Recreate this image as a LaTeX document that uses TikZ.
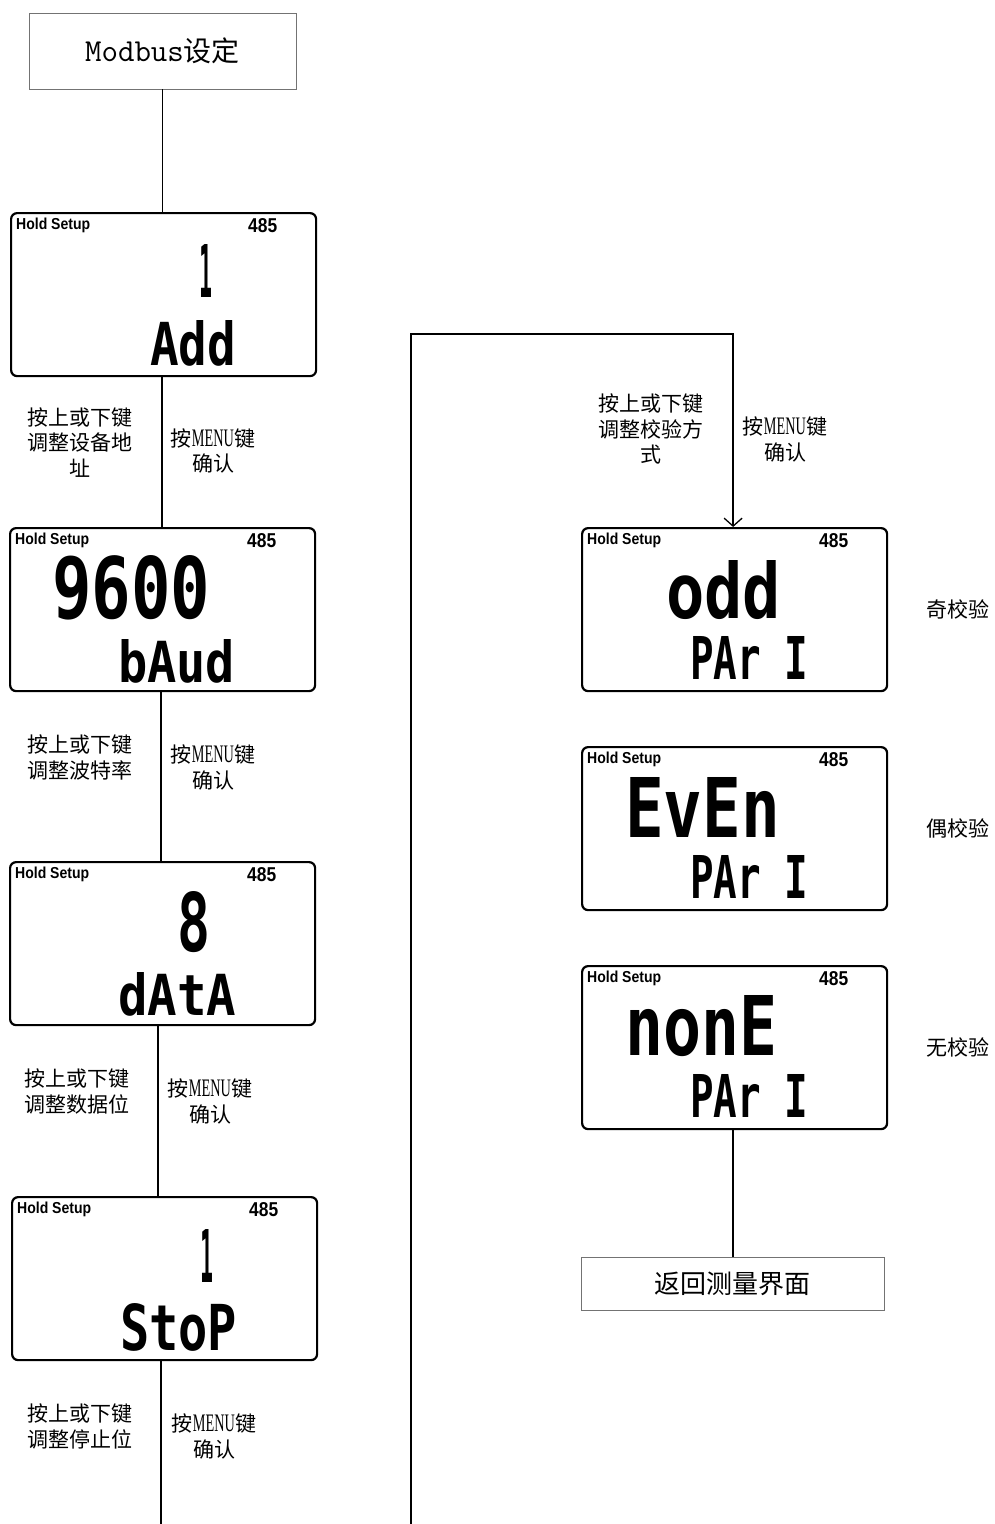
\documentclass[tikz,border=0pt]{standalone}
\usepackage{fontspec}
\usepackage{graphicx}
\setmainfont{Liberation Serif}
\newfontfamily\cjk{Noto Sans CJK SC}
\newfontfamily\segfont{DejaVu Sans Mono}
\newfontfamily\lcdsans{Liberation Sans}
\usetikzlibrary{arrows.meta}
\newcommand\segtxt[3]{\resizebox{#1pt}{#2pt}{\segfont\bfseries #3}}
\newcommand\menutxt{按\scalebox{0.68}[1.2]{\rmfamily MENU}键\\确认}
\newcommand\lcdpanel[3]{%
  \begin{scope}[shift={(#2,#3)}]
    \node[lcd] (#1) at (0,0) {};
    \node[holdtxt] (#1-hold) at (6,6) {\resizebox{74pt}{11.5pt}{Hold Setup}};
    \node[holdtxt] (#1-485) at (238,6) {\resizebox{29pt}{14pt}{485}};
  \end{scope}}
\tikzset{
  lcd/.style={anchor=north west, draw=black, line width=2.2pt, rounded corners=6pt,
    minimum width=305pt, minimum height=163pt, inner sep=0pt},
  holdtxt/.style={anchor=north west, inner sep=0pt, font=\lcdsans\bfseries\fontsize{14pt}{14pt}\selectfont},
  segnode/.style={anchor=south west, inner sep=0pt},
  conn/.style={draw=black, line width=1.3pt},
  graybox/.style={draw=black!55, line width=0.9pt, inner sep=0pt},
  lbl/.style={align=center, inner sep=0pt, font=\cjk\fontsize{21pt}{25.5pt}\selectfont},
}
\begin{document}
\begin{tikzpicture}[x=1pt,y=-1pt]
\useasboundingbox (0,0) rectangle (994,1524);
\fill[white] (0,0) rectangle (994,1524);

% top box
\node[graybox, minimum width=267pt, minimum height=76pt] (top) at (162.5,51)
  {\ttfamily\fontsize{32pt}{32pt}\selectfont Modbus{\cjk\fontsize{28pt}{28pt}\selectfont 设定}};

% panels
\lcdpanel{p1}{10}{212}
\lcdpanel{p2}{9}{527}
\lcdpanel{p3}{9}{861}
\lcdpanel{p4}{11}{1196}
\lcdpanel{p5}{581}{527}
\lcdpanel{p6}{581}{746}
\lcdpanel{p7}{581}{965}

% display texts
\node[segnode] (s1a) at (199,298) {\segtxt{13}{53}{1}};
\node[segnode] (s1b) at (150,367) {\segtxt{86}{45}{Add}};
\node[segnode] (s2a) at (52,620) {\segtxt{158}{63}{9600}};
\node[segnode] (s2b) at (118,683) {\segtxt{117}{43}{bAud}};
\node[segnode] (s3a) at (177,953) {\segtxt{33}{60}{8}};
\node[segnode] (s3b) at (118,1016) {\segtxt{118}{43}{dAtA}};
\node[segnode] (s4a) at (200,1283) {\segtxt{13}{53}{1}};
\node[segnode] (s4b) at (120,1352) {\segtxt{117}{47}{StoP}};
\node[segnode] (s5a) at (666,620) {\segtxt{115}{58}{odd}};
\node[segnode] (s5b) at (690,680) {\segtxt{118}{43}{PAr I}};
\node[segnode] (s6a) at (625,838) {\segtxt{155}{60}{EvEn}};
\node[segnode] (s6b) at (690,899) {\segtxt{118}{43}{PAr I}};
\node[segnode] (s7a) at (625,1057) {\segtxt{152}{60}{nonE}};
\node[segnode] (s7b) at (690,1118) {\segtxt{118}{43}{PAr I}};

% return box
\node[graybox, minimum width=303pt, minimum height=53pt] (ret) at (732.5,1283.5)
  {\cjk\fontsize{26pt}{26pt}\selectfont 返回测量界面};

% labels
\node[lbl] (l1) at (80,442.5) {按上或下键\\调整设备地\\址};
\node[lbl] (m1) at (213,451) {\menutxt};
\node[lbl] (l2) at (80,757.5) {按上或下键\\调整波特率};
\node[lbl] (m2) at (213,767.5) {\menutxt};
\node[lbl] (l3) at (77,1091.5) {按上或下键\\调整数据位};
\node[lbl] (m3) at (210,1101.5) {\menutxt};
\node[lbl] (l4) at (80,1426.5) {按上或下键\\调整停止位};
\node[lbl] (m4) at (214,1436.5) {\menutxt};
\node[lbl] (l5) at (651,429) {按上或下键\\调整校验方\\式};
\node[lbl] (m5) at (785,439.5) {\menutxt};
\node[lbl] (o5) at (958,609) {奇校验};
\node[lbl] (o6) at (958,828) {偶校验};
\node[lbl] (o7) at (958,1047) {无校验};

% connectors
\coordinate (b1) at (161,1524);
\coordinate (b2) at (411,1524);
\coordinate (c1) at (411,334);
\draw[conn] (top.south) -- (top.south |- p1.north);
\draw[conn] ([xshift=-1.5pt]p1.south) -- ([xshift=-1.5pt]p1.south |- p2.north);
\draw[conn] ([xshift=-1.5pt]p2.south) -- ([xshift=-1.5pt]p2.south |- p3.north);
\draw[conn] ([xshift=-4.5pt]p3.south) -- ([xshift=-4.5pt]p3.south |- p4.north);
\draw[conn] (b1 |- p4.south) -- (b1);
\draw[conn, -{Straight Barb[length=8pt,width=18pt]}] (b2) -- (c1) -| ([xshift=-1.5pt]p5.north);
\draw[conn] ([xshift=-1.5pt]p7.south) -- ([xshift=-1.5pt]p7.south |- ret.north);
\end{tikzpicture}
\end{document}
